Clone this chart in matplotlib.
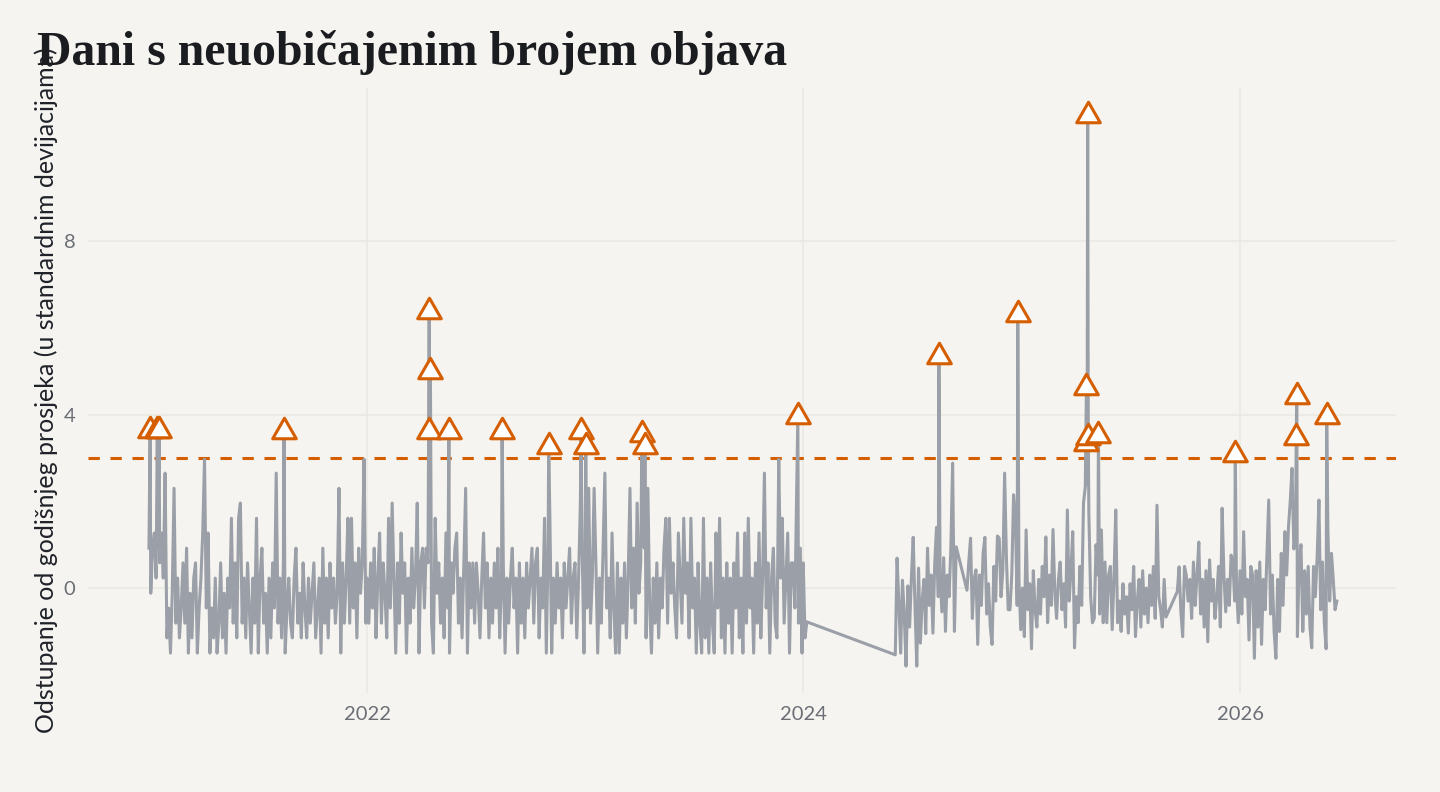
"""Days with an unusual number of posts: daily deviation from the yearly mean (z-score)."""
import matplotlib
matplotlib.use('Agg')
import matplotlib.pyplot as plt
from matplotlib.path import Path
import numpy as np

# base series, one value every 3 days, z-score vs. yearly mean
z_2021 = [0.92, -0.12, 0.92, 1.27, 0.23, 0.92, 0.58, 1.27, 0.23, 2.65,
          -1.15, -0.46, -1.50, -0.12, 2.30, -0.81, 0.23, -1.15, -0.46, 0.58,
          -0.81, 0.92, -1.50, -0.12, -1.15, 0.23, 0.58, -1.50, -0.46, 0.23,
          1.27, 2.97, -0.46, 1.27, -1.50, -0.46, -1.15, 0.23, -1.50, -0.81,
          0.58, -1.15, -0.12, -1.50, 0.23, -0.46, 1.61, -0.81, 0.58, -1.15,
          1.61, 1.96, -0.81, 0.23, -1.15, 0.58, -0.46, -1.50, 0.23, -0.81,
          1.61, -1.50, 0.23, 0.92, -0.81, -0.12, -1.50, 0.23, -1.15, 0.58,
          -0.46, 2.65, -0.81, 0.23, -1.15, 0.58, -1.50, -0.46, 0.23, -0.81,
          -1.15, 0.23, 0.92, -0.81, -0.12, -1.15, 0.58, -0.46, -1.15, 0.23,
          -0.81, -0.12, 0.58, -1.15, -0.46, 0.23, -1.50, 0.92, -0.81, 0.23,
          -1.15, 0.58, -0.46, 0.23, -0.81, -0.12, 2.30, -1.50, 0.58, -0.81,
          0.23, 1.61, -0.81, 1.61, -0.46, 0.58, -1.15, 0.92, -0.12, 0.58, 2.97, -0.81]
z_2022 = [0.23, -0.81, 0.58, -0.46, 0.92, -1.15, 0.23, 1.27, -0.81, 0.58,
          -0.12, -1.15, 1.61, -0.46, 1.96, 0.23, -1.50, 0.58, -0.81, 1.27,
          -0.12, 0.58, -1.50, 0.23, -0.81, 0.92, -0.46, 0.23, 1.96, -1.50,
          0.58, 0.92, -0.46, 0.92, 0.58, 1.61, -0.81, -1.50, 1.61, -0.12,
          0.58, -0.81, 0.23, -1.15, 1.27, -0.46, -1.50, 0.58, -0.12, 0.92,
          1.27, -0.81, 0.23, -1.15, 0.58, 2.30, -1.50, 0.58, -0.46, 0.58,
          -0.81, 0.58, -0.12, -1.15, 0.23, 1.27, -0.46, 0.58, -1.15, 0.23,
          -0.81, 0.58, -0.46, 0.92, -1.15, 0.23, 0.58, -1.50, 0.23, -0.81,
          0.23, 0.92, -0.46, 0.23, -1.50, 0.58, -0.81, 0.23, -1.15, 0.58,
          -0.46, 0.23, 0.92, -0.81, 0.58, 0.92, -1.15, 0.23, -0.46, 1.61,
          -1.50, 0.92, 1.61, -1.50, 0.23, -0.81, 0.58, -0.46, 0.23, -1.15,
          0.58, -0.46, 0.23, 0.92, -0.81, 0.23, 0.58, -1.15, 0.23, 1.96, 0.92, -1.50]
z_2023 = [0.58, -0.46, 2.30, -0.81, 0.23, 2.30, 0.58, -1.50, 0.23, -0.81,
          0.92, 2.65, -0.46, 0.23, -1.15, 1.27, -0.46, -1.50, 0.58, -1.50,
          0.23, -0.81, 0.58, -1.15, 0.23, 2.30, -0.46, 0.92, -0.81, 1.96,
          -0.12, 0.58, 1.27, 0.92, -1.15, 2.30, -0.46, -1.50, 0.23, -0.81,
          0.58, -1.15, 0.23, -0.46, 0.92, 1.61, -0.81, 1.61, -0.12, 0.58,
          -0.46, -1.15, 1.27, 0.23, -0.81, 1.61, -0.12, 0.58, -1.15, 1.61,
          -0.46, 0.23, -1.50, 0.58, -0.81, -1.50, 1.61, -1.15, 0.23, -1.50,
          0.58, -0.81, -1.50, 1.27, -0.46, 1.61, -1.15, 0.23, -1.50, 0.58,
          -0.81, 0.23, -1.50, 0.58, -0.46, 1.27, -1.15, 0.23, -1.50, 1.27,
          -0.81, 1.61, -0.46, 0.23, -1.50, 0.58, -0.81, 1.27, -1.15, 0.23,
          2.65, -0.46, 0.58, -1.50, 0.23, 0.92, -0.81, -1.15, 2.97, 0.23,
          1.61, -0.81, 0.23, 1.27, -1.50, 0.58, 0.58, -0.46, 2.30, -0.81, 0.92, -1.50]
z_2024_jan = [0.58, -1.15, -0.78]
z_2024_summer = [-1.54, 0.69, -0.35, -1.50, 0.18, -0.60, -1.80, 0.05, -0.90, 0.25,
                 1.17, -0.40, -1.80, 0.46, -1.27, -0.30, 0.20, -1.05, 0.92, -0.40,
                 0.30, -1.04, 0.55, 1.40, -0.20, 0.35, -0.55, 0.70, -1.00, 0.30,
                 -0.20, 0.90, 2.88, -1.00, 0.95]
z_2024_2025 = [-0.05, 0.60, 1.15, -0.70, 0.20, 0.42, -1.30, 0.30, -0.40, 0.80,
               1.17, -0.60, 0.10, -0.90, -1.30, 0.50, -0.30, 1.20, 1.15, -0.20,
               0.40, 2.65, 0.70, -0.50, -0.50, 0.30, 2.15, 1.64, -0.40, 0.20,
               -0.96, 0.00, -1.12, 1.34, -0.50, 0.10, -1.40, 0.40, -0.50, -0.90,
               0.20, -0.60, 0.50, -0.20, 1.18, -0.80, 0.30, -0.40, 1.35, -0.10,
               -0.70, 0.20, 0.60, -0.50, 0.10, -0.90, 1.80, -0.30, 0.40, 1.30,
               -1.38, -0.20, -0.80, 0.50, -0.40, 1.96, 2.33, 2.40, 1.70, -0.20,
               -0.80, -0.70, 1.00, 0.30, -0.60, 1.34, -0.80, 0.60, -0.80, 0.30,
               0.50, -0.96, 0.20, 1.80, -0.80, -0.30, -1.00, 0.10, -0.60, -0.20,
               -1.04, 0.10, -0.50, 0.50, -1.12, -0.30, 0.20, -0.90, 0.40, -0.60,
               0.00, -0.80, 0.30, -0.40, 0.50, -0.70, 1.91, -0.20, -0.50, -0.90, 0.20, -0.67]
z_2025_2026 = [-0.08, 0.49, -0.55, -1.12, 0.50, 0.30, -0.30, 0.20, -0.70, 0.60,
               -0.40, 0.30, 1.06, -0.60, 0.20, -0.90, 0.40, -1.24, 0.65, -0.30,
               0.20, -0.70, -0.20, 0.50, -0.90, 1.84, 0.30, -0.55, 0.20, -0.40,
               0.76, 0.60, -0.30, 0.10, -0.80, 0.40, -0.60, 1.30, -0.20, 0.20,
               -1.20, 0.50, 0.30, -1.62, 0.40, -0.90, 0.60, -1.30, 0.20, -0.50,
               0.80, 2.03, -0.60, 0.30, -1.00, -1.62, 0.20, -1.00, 0.80, -0.40,
               1.30, 0.30, 1.40, 2.00, 2.76, 0.90, 1.20, -1.12, 0.60, 1.00,
               -1.00, 0.40, -0.60, 0.50, -0.90, -1.38, 0.50, -0.20, 0.70, 2.03,
               -0.50, 0.60, -0.80, -1.40, 1.34, -0.30, 0.80, 0.20, -0.50, -0.30]
segment_starts = ['2021-01-01', '2022-01-01', '2023-01-01', '2024-01-01',
                  '2024-06-03', '2024-10-01', '2025-09-18']
segments = [z_2021, z_2022, z_2023, z_2024_jan, z_2024_summer, z_2024_2025, z_2025_2026]

# days above the threshold
anomaly_dates = ['2021-01-03', '2021-01-15', '2021-01-18', '2021-08-15',
                 '2022-04-14', '2022-04-15', '2022-04-17', '2022-05-18', '2022-08-15',
                 '2022-11-01', '2022-12-25', '2023-01-02', '2023-04-06', '2023-04-11',
                 '2023-12-23', '2024-08-15', '2024-12-25', '2025-04-18', '2025-04-19',
                 '2025-04-21', '2025-04-22', '2025-05-09', '2025-12-24', '2026-04-05',
                 '2026-04-06', '2026-05-26']
anomaly_values = [3.72, 3.72, 3.72, 3.69,
                  3.69, 6.45, 5.07, 3.69, 3.69,
                  3.34, 3.69, 3.34, 3.62, 3.34,
                  4.03, 5.41, 6.38, 3.42, 4.70,
                  10.97, 3.55, 3.60, 3.16, 3.55,
                  4.50, 4.03]
threshold = 3
year_ticks = ['2022', '2024', '2026']

BG = '#f5f4f0'
GRID = '#e9e7e2'
LINE = '#9b9fa7'
ORANGE = '#d55e00'

dates, vals = [], []
for start, seg in zip(segment_starts, segments):
    dates.append(np.datetime64(start) + np.arange(len(seg)) * np.timedelta64(3, 'D'))
    vals.append(np.array(seg))
a_dates = np.array(anomaly_dates, dtype='datetime64[D]')
a_vals = np.array(anomaly_values)
all_d = np.concatenate(dates + [a_dates])
all_v = np.concatenate(vals + [a_vals])
order = np.argsort(all_d, kind='stable')
all_d, all_v = all_d[order], all_v[order]

fig = plt.figure(figsize=(14.4, 7.92), dpi=100, facecolor=BG)
ax = fig.add_axes([88 / 1440, 1 - 693 / 792, 1308 / 1440, 605 / 792])
ax.set_facecolor(BG)

ax.axhline(threshold, color=ORANGE, lw=2.2, ls=(0, (3.7, 3.5)), zorder=1.5)
ax.plot(all_d, all_v, color=LINE, lw=2.2, zorder=2)

tri = Path([(0, 0.87), (-1, -0.87), (1, -0.87), (0, 0.87)],
           [Path.MOVETO, Path.LINETO, Path.LINETO, Path.CLOSEPOLY])
ax.plot(a_dates, a_vals, ls='none', marker=tri, ms=17, mfc='white',
        mec=ORANGE, mew=2.2, zorder=3)

ax.set_xlim(np.datetime64('2020-09-21'), np.datetime64('2026-09-19'))
ax.set_ylim(-2.42, 11.53)
ax.set_xticks([np.datetime64(y + '-01-01') for y in year_ticks])
ax.set_xticklabels(year_ticks)
ax.set_yticks([0, 4, 8])
ax.set_yticklabels(['0', '4', '8'])
ax.grid(True, color=GRID, lw=1.1, zorder=0)
ax.set_axisbelow(True)
for s in ax.spines.values():
    s.set_visible(False)
ax.tick_params(length=0, labelsize=14.5, labelcolor='#6b6e75', pad=9)
for lab in ax.get_xticklabels() + ax.get_yticklabels():
    lab.set_family('Lato')

ax.set_ylabel('Odstupanje od godišnjeg prosjeka (u standardnim devijacijama)',
              family='Lato', fontsize=18, color='#1f2329')
ax.yaxis.set_label_coords(-30 / 1308, 0.5)

fig.text(37 / 1440, 1 - 65 / 792, 'Dani s neuobičajenim brojem objava',
         family='Liberation Serif', fontweight='bold', fontsize=34.4,
         color='#1a1c20', va='baseline', ha='left')

fig.savefig('out.png', dpi=100, facecolor=BG)
